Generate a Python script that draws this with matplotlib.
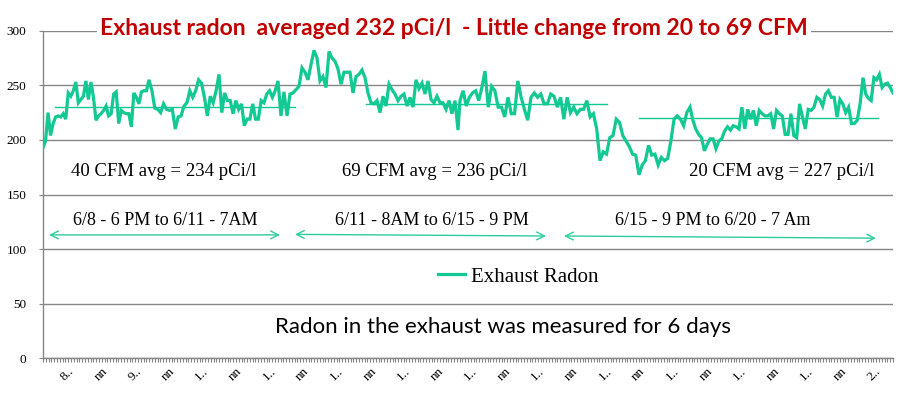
import numpy as np
import matplotlib
matplotlib.use('Agg')
import matplotlib.pyplot as plt

# Радон в вытяжке
radon = [
    193, 199, 225, 204, 215, 221, 222, 221, 224, 219,
    243, 240, 245, 253, 234, 237, 240, 254, 237, 253,
    239, 218, 222, 224, 227, 231, 222, 224, 242, 244,
    215, 227, 225, 224, 224, 212, 243, 239, 233, 244,
    245, 245, 255, 245, 229, 228, 225, 233, 228, 227,
    228, 210, 221, 222, 231, 234, 245, 239, 245, 255,
    252, 239, 222, 240, 234, 245, 260, 225, 243, 236,
    236, 224, 236, 228, 233, 213, 219, 219, 233, 219,
    219, 236, 234, 242, 245, 239, 245, 254, 222, 244,
    222, 242, 243, 246, 249, 266, 262, 255, 269, 282,
    275, 254, 258, 248, 281, 275, 272, 265, 251, 262,
    262, 262, 243, 258, 260, 264, 257, 243, 234, 233,
    236, 225, 240, 231, 251, 246, 242, 236, 240, 242,
    231, 239, 230, 255, 247, 252, 242, 254, 237, 234,
    240, 234, 234, 228, 236, 224, 236, 209,
    236, 245, 231, 239, 243, 245, 236, 248, 263, 230,
    249, 245, 230, 230, 221, 239, 224, 224, 254, 239,
    228, 218, 239, 243, 239, 242, 233, 233, 242, 240,
    230, 239, 219, 239, 225, 230, 224, 228, 228, 236,
    221, 224, 210, 181, 189, 187, 202, 204, 219, 216,
    204, 199, 194, 187, 186, 168, 177, 181, 195, 186,
    187, 177, 184, 181, 183, 199, 219, 222, 219, 213,
    225, 230, 218, 210, 205, 202, 190, 196, 201, 201,
    192, 199, 201, 208, 212, 209, 213, 212, 210, 230,
    210, 228, 219, 227, 213, 227, 224, 222, 222, 224,
    210, 227, 224, 222, 205, 205, 224, 204, 202, 233,
    221, 210, 228, 227, 230, 239, 237, 231, 242, 245,
    239, 239, 221, 237, 233, 225, 230, 215, 215, 218,
    233, 257, 242, 238, 236, 257, 255, 260, 248, 251,
    252, 248, 243,
]

# опорные точки: номер отсчёта -> пиксель по горизонтали на исходной картинке
anchor_idx = [0, 42, 66, 87, 99, 147, 148, 156, 191, 203, 219, 279, 290]
anchor_px = [43, 149, 219, 278, 314, 458, 460, 485, 600, 639, 690, 863, 893]
total_hours = 304

tick_labels = ['8..', 'nn', '9..', 'nn', '1..', 'nn', '1..', 'nn', '1..', 'nn',
               '1..', 'nn', '1..', 'nn', '1..', 'nn', '1..', 'nn', '1..', 'nn',
               '1..', 'nn', '1..', 'nn', '2..']

avg_values = [230, 233, 220]
avg_labels = ['40 CFM avg = 234 pCi/l', '69 CFM avg = 236 pCi/l', '20 CFM avg = 227 pCi/l']
period_labels = ['6/8 - 6 PM to 6/11 - 7AM', '6/11 - 8AM to 6/15 - 9 PM', '6/15 - 9 PM to 6/20 - 7 Am']

GREEN = '#12C993'
GRID = '#868686'
SERIF = 'Liberation Serif'
SANS = 'Lato'

W, H = 912, 397
X0, X1 = 43, 893       # границы области построения, пиксели
Y0, Y1 = 358.3, 30.7

fig = plt.figure(figsize=(W / 100, H / 100), dpi=100)
ax = fig.add_axes([X0 / W, 1 - Y0 / H, (X1 - X0) / W, (Y0 - Y1) / H])


def px(p):
    # пиксель по горизонтали -> час
    return (np.asarray(p) - X0) / (X1 - X0) * total_hours


x = px(np.interp(np.arange(len(radon)), anchor_idx, anchor_px))

ax.plot(x, radon, color=GREEN, lw=2.3, solid_joinstyle='miter', label='Exhaust Radon', zorder=3)

# средние линии
avg_spans = [(55, 295), (366, 607), (639, 878)]
for (a, b), v in zip(avg_spans, avg_values):
    ax.plot([px(a), px(b)], [v, v], color=GREEN, lw=1.0, zorder=2)

# стрелки периодов
arrow_spans = [((49, 113), (280, 113)), ((295, 113.5), (546, 112)), ((564, 112), (876, 110))]
for (a, ya), (b, yb) in arrow_spans:
    ax.annotate('', xy=(px(b), yb), xytext=(px(a), ya),
                arrowprops=dict(arrowstyle='<->', color='#2ECC9C', lw=1.0,
                                mutation_scale=14, shrinkA=0, shrinkB=0))

period_x = [165, 432, 713]
for cx, t in zip(period_x, period_labels):
    ax.text(px(cx), 126.5, t, ha='center', va='center', fontsize=13, family=SERIF)

avg_x = [164, 435, 782]
for cx, t in zip(avg_x, avg_labels):
    ax.text(px(cx), 171, t, ha='center', va='center', fontsize=13.5, family=SERIF)

ax.text(px(503), 29, 'Radon in the exhaust was measured for 6 days',
        ha='center', va='center', fontsize=16, family=SANS)

ax.text(px(454), 302, 'Exhaust radon  averaged 232 pCi/l  - Little change from 20 to 69 CFM',
        ha='center', va='center', fontsize=16.5, fontweight='bold', color='#C00000',
        family=SANS, zorder=5,
        bbox=dict(facecolor='white', edgecolor='none', pad=2))

ax.set_xlim(0, total_hours)
ax.set_ylim(0, 300)
ax.set_yticks(np.arange(0, 301, 50))
ax.yaxis.grid(True, color=GRID, lw=1.0)
ax.set_axisbelow(True)
for s in ['top', 'right']:
    ax.spines[s].set_visible(False)
for s in ['left', 'bottom']:
    ax.spines[s].set_color(GRID)
    ax.spines[s].set_linewidth(1.0)

ax.tick_params(axis='y', length=3, color=GRID, pad=9, labelsize=9.5)
for lab in ax.get_yticklabels():
    lab.set_family(SERIF)

label_pos = [px(68 + 33.6 * i) for i in range(len(tick_labels))]
ax.set_xticks(label_pos)
ax.set_xticklabels(tick_labels, rotation=45, ha='right', va='top',
                   rotation_mode='anchor', family=SERIF, fontsize=9.5)
ax.tick_params(axis='x', length=0, pad=5)
ax.set_xticks(np.arange(0, total_hours + 1), minor=True)
ax.tick_params(axis='x', which='minor', length=3, color=GRID, width=0.8)

leg = ax.legend(loc='center', bbox_to_anchor=((518 - X0) / (X1 - X0), (Y0 - 277) / (Y0 - Y1)),
                frameon=False, handlelength=1.3, handletextpad=0.3,
                prop={'family': SERIF, 'size': 15})

plt.savefig('out.png', dpi=100)
